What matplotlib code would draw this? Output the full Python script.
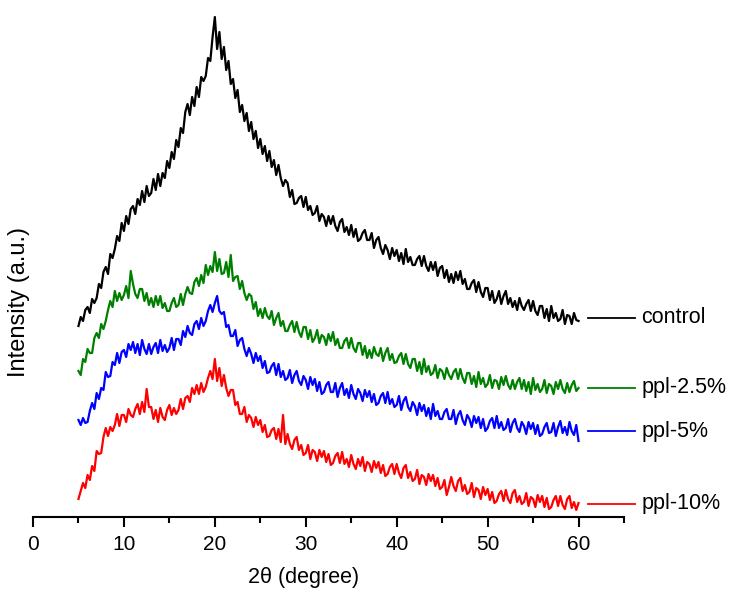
import numpy as np
import matplotlib
matplotlib.use("Agg")
import matplotlib.pyplot as plt
from matplotlib.ticker import MultipleLocator

plt.rcParams['font.family'] = ['Liberation Sans', 'DejaVu Sans']

# XRD scans, 2theta 5-60 deg in 0.25 deg steps (intensity in arbitrary, stacked units)
two_theta = np.linspace(5, 60, 221)

control = [
    191, 200, 196, 207,  210, 204, 218, 214,  219, 233, 229, 245,  250, 243, 263, 259,
    268, 281, 276, 294,  286, 301, 293, 308,  311, 303, 318, 312,  326, 315, 331, 321,
    324, 338, 327, 343,  331, 344, 339, 356,  349, 365, 358, 377,  370, 389, 384, 405,
    413, 402, 420, 411,  430, 420, 440, 436,  441, 459, 456, 480,  500, 468, 485, 458,
    470, 447, 456, 433,  438, 419, 427, 405,  412, 396, 404, 386,  395, 378, 386, 369,
    378, 363, 371, 356,  366, 350, 357, 342,  352, 339, 331, 337,  334, 320, 327, 313,
    314, 319, 321, 310,  320, 307, 311, 302,  304, 311, 296, 303,  300, 291, 301, 293,
    301, 291, 286, 295,  298, 285, 290, 282,  292, 280, 288, 276,  278, 284, 287, 277,
    277, 284, 269, 277,  280, 269, 263, 272,  267, 258, 269, 261,  267, 256, 264, 253,
    268, 255, 260, 252,  252, 258, 261, 251,  261, 251, 246, 255,  247, 255, 241, 249,
    251, 239, 247, 235,  243, 234, 245, 237,  246, 233, 238, 228,  228, 234, 237, 225,
    235, 225, 220, 229,  229, 217, 226, 214,  218, 226, 213, 221,  226, 213, 219, 210,
    216, 207, 219, 211,  207, 213, 217, 206,  216, 206, 202, 211,  211, 199, 208, 196,
    211, 199, 204, 196,  198, 207, 193, 202,  201, 193, 204, 197,  196,
]

ppl_2_5 = [
    146, 142, 158, 155,  168, 164, 164, 179,  184, 179, 193, 188,  196, 207, 216, 210,
    226, 216, 224, 217,  222, 231, 219, 246,  233, 223, 219, 228,  228, 216, 224, 212,
    219, 210, 221, 212,  221, 209, 214, 206,  206, 214, 219, 210,  212, 223, 212, 223,
    230, 224, 223, 235,  239, 231, 242, 234,  252, 242, 251, 245,  265, 246, 258, 243,
    244, 255, 240, 262,  236, 240, 241, 228,  236, 224, 217, 223,  221, 208, 215, 201,
    208, 199, 209, 201,  198, 206, 192, 199,  204, 191, 196, 186,  186, 192, 196, 185,
    195, 185, 180, 190,  190, 178, 187, 175,  179, 187, 174, 182,  180, 172, 183, 176,
    185, 172, 178, 169,  169, 176, 179, 169,  179, 169, 165, 174,  174, 162, 171, 159,
    167, 159, 170, 163,  161, 169, 156, 164,  169, 157, 163, 154,  155, 161, 164, 153,
    163, 153, 149, 158,  158, 146, 155, 143,  158, 145, 151, 142,  144, 152, 139, 148,
    146, 138, 149, 142,  138, 145, 148, 138,  148, 139, 134, 144,  144, 133, 141, 130,
    145, 133, 139, 130,  133, 142, 129, 137,  136, 128, 140, 132,  141, 132, 128, 137,
    128, 135, 139, 128,  137, 126, 135, 123,  139, 127, 133, 125,  128, 137, 124, 133,
    131, 123, 135, 128,  137, 128, 124, 134,  125, 132, 136, 126,  129,
]

ppl_5 = [
    97, 92, 99, 94,  95, 106, 114, 108,  124, 118, 129, 127,  145, 140, 141, 155,
    152, 164, 154, 165,  167, 160, 173, 167,  175, 164, 173, 162,  177, 168, 163, 173,
    163, 170, 174, 164,  177, 166, 172, 165,  169, 179, 167, 178,  178, 172, 186, 180,
    191, 184, 182, 193,  196, 188, 199, 191,  196, 206, 212, 205,  214, 221, 206, 203,
    205, 190, 192, 181,  181, 187, 171, 177,  179, 168, 161, 169,  163, 154, 164, 156,
    161, 149, 156, 144,  145, 151, 154, 142,  153, 140, 146, 137,  139, 147, 134, 142,
    146, 136, 132, 141,  137, 128, 140, 132,  138, 126, 135, 123,  125, 132, 135, 125,
    125, 134, 120, 129,  134, 122, 128, 119,  132, 123, 118, 128,  124, 116, 127, 120,
    126, 115, 123, 112,  114, 121, 124, 114,  125, 113, 118, 110,  112, 121, 107, 116,
    120, 110, 106, 115,  111, 102, 114, 106,  112, 101, 109, 98,  113, 101, 106, 98,
    98, 105, 108, 98,  98, 107, 93, 102,  106, 97, 92, 102,  98, 90, 101, 94,
    100, 89, 98, 86,  89, 96, 99, 89,  101, 89, 95, 87,  89, 98, 85, 94,
    98, 89, 85, 95,  91, 83, 95, 88,  94, 83, 92, 81,  83, 90, 94, 84,
    85, 94, 81, 90,  96, 84, 90, 82,  95, 86, 82, 92,  76,
]

ppl_10 = [
    18, 26, 34, 29,  42, 37, 51, 46,  66, 63, 64, 80,  89, 81, 90, 86,
    92, 103, 91, 102,  102, 95, 108, 102,  100, 108, 113, 103,  115, 105, 128, 110,
    110, 98, 107, 95,  109, 100, 97, 107,  112, 102, 109, 103,  107, 118, 108, 119,
    121, 115, 129, 123,  132, 123, 134, 125,  130, 139, 146, 138,  158, 136, 149, 131,
    142, 129, 121, 127,  127, 112, 115, 103,  103, 110, 95, 102,  99, 90, 100, 92,
    97, 85, 92, 80,  81, 87, 89, 78,  88, 75, 102, 73,  83, 73, 68, 77,
    80, 67, 72, 62,  64, 72, 58, 67,  65, 56, 67, 60,  66, 55, 63, 52,
    54, 61, 64, 54,  65, 53, 58, 50,  62, 53, 48, 58,  51, 60, 46, 55,
    53, 45, 56, 49,  55, 44, 52, 41,  43, 50, 53, 43,  53, 44, 39, 49,
    52, 39, 45, 36,  38, 47, 33, 42,  40, 32, 43, 36,  42, 31, 39, 28,
    30, 37, 22, 30,  40, 31, 26, 36,  39, 26, 32, 23,  25, 34, 20, 29,
    27, 18, 30, 22,  28, 17, 25, 14,  16, 23, 26, 16,  27, 18, 14, 24,
    27, 15, 21, 13,  15, 24, 11, 20,  18, 10, 22, 15,  21, 10, 19, 8,
    10, 17, 21, 11,  21, 12, 8, 18,  21, 9, 15, 7,  14,
]

series = [control, ppl_2_5, ppl_5, ppl_10]
labels = ['control', 'ppl-2.5%', 'ppl-5%', 'ppl-10%']
colors = ['#000000', '#008000', '#0000ff', '#ff0000']

fig = plt.figure(figsize=(7.36, 6.01), dpi=100)
ax = fig.add_axes([33 / 736, 84 / 601, 591 / 736, 517 / 601])

for y, lab, c in zip(series, labels, colors):
    ax.plot(two_theta, y, color=c, lw=1.6)
    # label at the right end of each trace
    yl = np.mean(y[-8:])
    ax.plot([61.0, 66.2], [yl, yl], color=c, lw=1.3, clip_on=False)
    ax.text(66.9, yl, lab, fontsize=15.5, va='center', ha='left')

ax.set_xlim(0, 65)
ax.set_ylim(0, 517)

for s in ['left', 'right', 'top']:
    ax.spines[s].set_visible(False)
ax.spines['bottom'].set_linewidth(1.5)
ax.set_yticks([])

ax.xaxis.set_major_locator(MultipleLocator(10))
ax.xaxis.set_minor_locator(MultipleLocator(5))
ax.tick_params(axis='x', which='major', direction='out', length=7, width=1.5,
               labelsize=15, pad=6)
ax.tick_params(axis='x', which='minor', direction='out', length=4.5, width=1.5)

ax.set_xlabel('2θ (degree)', fontsize=15.5)
ax.xaxis.set_label_coords(29.8 / 65, -0.097)
ax.set_ylabel('Intensity (a.u.)', fontsize=17)
ax.yaxis.set_label_coords(-0.005, 0.415)

fig.savefig('out.png', dpi=100)
